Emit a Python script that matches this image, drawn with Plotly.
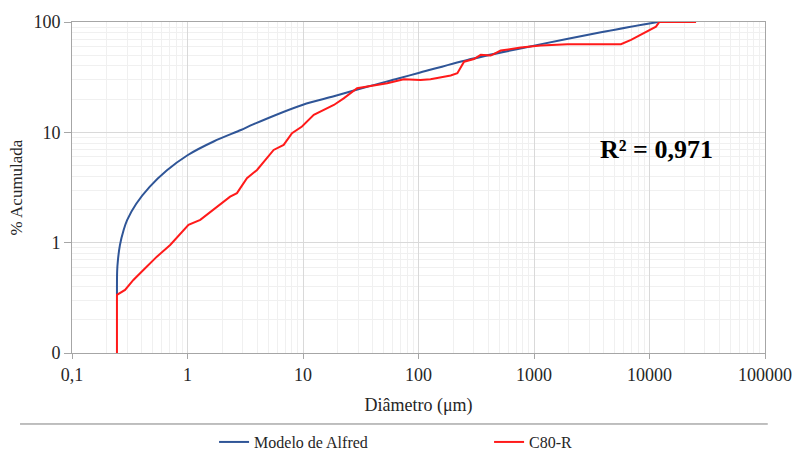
import plotly.graph_objects as go

# Cumulative passing (%) vs particle diameter (µm)
alfred_diam = [0.245, 0.246, 0.25, 0.26, 0.28, 0.30, 0.36, 0.47, 0.66, 1.0, 1.7,
               2.9, 3.7, 10, 18.5, 35.9, 65.5, 100, 265, 1000, 3800, 11800]
alfred_pct = [0.34, 0.55, 0.70, 0.95, 1.3, 1.6, 2.25, 3.2, 4.5, 6.2, 8.3,
              10.5, 11.8, 17.8, 21.2, 25.9, 30.6, 34.5, 45.3, 61.1, 80.7, 100]

c80_diam = [0.245, 0.245, 0.288, 0.340, 0.415, 0.543, 0.708, 1.02, 1.29, 1.80,
            2.34, 2.68, 3.27, 4.0, 5.57, 6.8, 8.03, 9.8, 12.4, 18.5, 22.5, 29.4,
            53.6, 74.6, 104, 127, 190, 217, 248, 302, 346, 422, 515, 768, 1145,
            1950, 3800, 5660, 6920, 9640, 11380, 12160, 25300]
c80_pct = [0.1, 0.336, 0.373, 0.459, 0.566, 0.747, 0.953, 1.45, 1.61, 2.12,
           2.61, 2.81, 3.84, 4.56, 6.92, 7.69, 9.82, 11.3, 14.4, 17.7, 20.3, 25.1,
           27.9, 30.3, 29.8, 30.3, 32.7, 34.3, 43.7, 46.2, 50.4, 49.6, 55.1, 58.6, 61.1,
           62.9, 62.9, 62.9, 68.9, 83.0, 90.7, 100, 100]

x_ticks = [0.1, 1, 10, 100, 1000, 10000, 100000]
x_labels = ["0,1", "1", "10", "100", "1000", "10000", "100000"]
y_ticks = [0.1, 1, 10, 100]
y_labels = ["0", "1", "10", "100"]

serif = "Liberation Serif, Times New Roman, serif"
ink = "#262626"

x_minor = [m * 10 ** e for e in range(-1, 5) for m in range(2, 10)]
y_minor = [m * 10 ** e for e in range(-1, 2) for m in range(2, 10)]

fig = go.Figure()
fig.add_trace(go.Scatter(x=alfred_diam, y=alfred_pct, mode="lines",
                         name="Modelo de Alfred",
                         line=dict(color="#2f5597", width=2, shape="spline", smoothing=0.8)))
fig.add_trace(go.Scatter(x=c80_diam, y=c80_pct, mode="lines", name="C80-R",
                         line=dict(color="#ff1a1a", width=2)))

axis_common = dict(
    showline=True, linecolor="#a6a6a6", linewidth=1, mirror=True,
    gridcolor="#d9d9d9", gridwidth=1, zeroline=False,
    ticks="outside", tickcolor="#a6a6a6",
    tickfont=dict(family=serif, size=18, color=ink),
)

fig.update_xaxes(type="log", range=[-1, 5], tickmode="array",
                 tickvals=x_ticks, ticktext=x_labels, ticklen=5,
                 title=dict(text="Diâmetro (μm)", standoff=14,
                            font=dict(family=serif, size=18, color=ink)),
                 minor=dict(tickmode="array", tickvals=x_minor, showgrid=True,
                            gridcolor="#f0f0f0", ticks=""),
                 **axis_common)
fig.update_yaxes(type="log", range=[-1, 2], tickmode="array",
                 tickvals=y_ticks, ticktext=y_labels, ticklen=7,
                 title=dict(text="% Acumulada", standoff=6,
                            font=dict(family=serif, size=17, color=ink)),
                 minor=dict(tickmode="array", tickvals=y_minor, showgrid=True,
                            gridcolor="#f0f0f0", ticks=""),
                 **axis_common)

fig.add_annotation(text="<b>R² = 0,971</b>", xref="paper", yref="paper",
                   x=0.843, y=0.616, xanchor="center", yanchor="middle",
                   showarrow=False,
                   font=dict(family=serif, size=26, color="#000000"))

# separator line above the legend
fig.add_shape(type="line", xref="paper", yref="paper",
              x0=-0.075, x1=1.004, y0=-0.2145, y1=-0.2145,
              line=dict(color="#7f7f7f", width=1))

fig.update_layout(
    width=797, height=451,
    margin=dict(l=72, r=32, t=22, b=98, autoexpand=False),
    paper_bgcolor="white", plot_bgcolor="white",
    showlegend=True,
    legend=dict(orientation="h", x=0.205, xanchor="left",
                y=-0.269, yanchor="middle",
                entrywidth=230, font=dict(family=serif, size=16, color=ink),
                itemwidth=30),
)

fig.write_html("out.html")
